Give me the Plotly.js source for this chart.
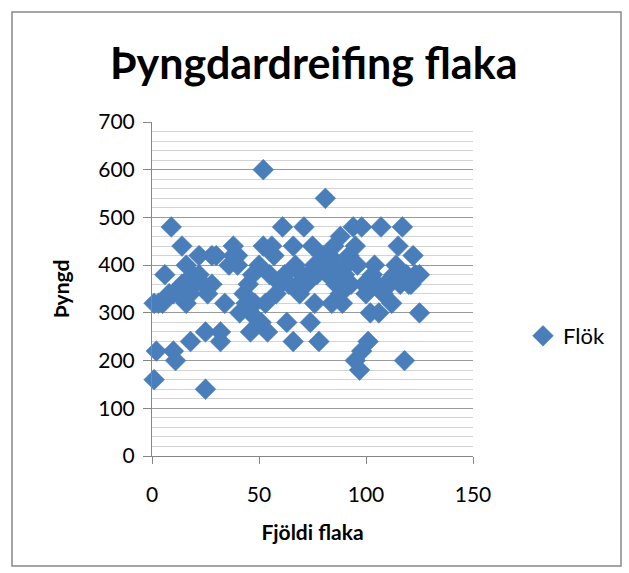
<!DOCTYPE html>
<html>
<head>
<meta charset="utf-8">
<script src="https://cdn.plot.ly/plotly-3.0.1.min.js"></script>
<style>
  html, body { margin: 0; padding: 0; background: #fff; }
  #chart { width: 629px; height: 573px; }
</style>
</head>
<body>
<div id="chart"></div>
<script>
// Fjöldi flaka (x) and Þyngd (y)
const fjoldi = [1,2,1,3,5,6,9,10,11,8,10,12,14,14,16,16,18,18,19,20,22,22,24,25,25,26,28,28,30,32,32,34,36,38,38,40,40,41,43,44,45,46,46,47,48,50,51,52,52,53,54,55,56,57,58,60,61,62,63,64,66,66,67,68,69,70,71,72,73,74,75,76,76,77,78,79,80,81,82,83,84,85,86,87,88,88,89,90,91,92,93,94,95,95,96,97,98,98,99,100,101,102,103,104,105,106,107,108,109,111,112,113,114,115,116,117,118,119,120,121,122,123,125,125];
const thyngd = [160,220,320,320,320,380,480,220,200,340,340,340,440,360,320,400,240,340,380,360,420,380,360,140,260,340,420,360,420,260,240,320,400,440,420,420,400,300,340,320,360,260,300,380,320,400,280,600,440,320,260,380,440,420,340,360,480,380,280,360,240,440,400,360,340,380,480,360,380,280,440,320,400,380,240,400,420,540,380,420,320,440,360,400,460,340,320,380,400,420,360,480,440,200,400,180,480,220,360,340,240,300,380,400,360,300,480,340,360,360,320,380,400,440,360,480,200,380,360,360,420,380,380,300];
const seriesName = 'Flök';
const xTicks = [0, 50, 100, 150];
const yTicks = [0, 100, 200, 300, 400, 500, 600, 700];

const trace = {
  type: 'scatter',
  mode: 'markers',
  x: fjoldi,
  y: thyngd,
  name: seriesName,
  marker: { symbol: 'diamond', size: 16, color: '#4A7EBB', line: { color: '#4A7EBB', width: 0.5 } },
  cliponaxis: false
};

const baseFont = { family: 'Lato, "Open Sans", sans-serif', color: '#000' };

const layout = {
  width: 629, height: 573,
  margin: { l: 152, r: 156, t: 122, b: 117 },
  paper_bgcolor: '#fff', plot_bgcolor: '#fff',
  font: Object.assign({ size: 20 }, baseFont),
  showlegend: true,
  title: {
    text: '<b>Þyngdardreifing flaka</b>',
    font: Object.assign({}, baseFont, { size: 43 }),
    x: 0.504, xref: 'paper', xanchor: 'center',
    y: 1 - 64 / 573, yref: 'container', yanchor: 'middle'
  },
  xaxis: {
    range: [0, 150], tickvals: xTicks, ticktext: xTicks.map(String),
    showgrid: false, zeroline: false,
    showline: true, linecolor: '#868686', linewidth: 1,
    ticks: 'outside', ticklen: 7, tickcolor: '#868686',
    ticklabelstandoff: 13,
    tickfont: Object.assign({}, baseFont, { size: 21 }),
    title: { text: '<b>Fjöldi flaka</b>', font: Object.assign({}, baseFont, { size: 21 }), standoff: 20 },
    fixedrange: true
  },
  yaxis: {
    range: [0, 700], tickvals: yTicks, ticktext: yTicks.map(String),
    showgrid: true, gridcolor: '#9a9a9a', gridwidth: 1,
    zeroline: false,
    showline: true, linecolor: '#868686', linewidth: 1,
    ticks: 'outside', ticklen: 8, tickcolor: '#868686',
    ticklabelstandoff: 4,
    tickfont: Object.assign({}, baseFont, { size: 21 }),
    minor: { dtick: 20, tick0: 0, showgrid: true, gridcolor: '#d4d4d4', gridwidth: 1, ticks: '' },
    title: { text: '<b>Þyngd</b>', font: Object.assign({}, baseFont, { size: 21 }), standoff: 22 },
    fixedrange: true
  },
  legend: {
    x: (523 - 152) / 321, xanchor: 'left',
    y: (456 - 336) / 334, yanchor: 'middle',
    font: Object.assign({}, baseFont, { size: 22 }),
    bgcolor: 'rgba(0,0,0,0)', itemwidth: 30
  },
  shapes: [{
    type: 'rect', xref: 'paper', yref: 'paper',
    x0: (12 - 152) / 321, x1: (621 - 152) / 321,
    y0: (456 - 566) / 334, y1: (456 - 12) / 334,
    line: { color: '#888888', width: 1.5 }, fillcolor: 'rgba(0,0,0,0)', layer: 'below'
  }]
};

Plotly.newPlot('chart', [trace], layout, { displayModeBar: false, staticPlot: true });
</script>
</body>
</html>
